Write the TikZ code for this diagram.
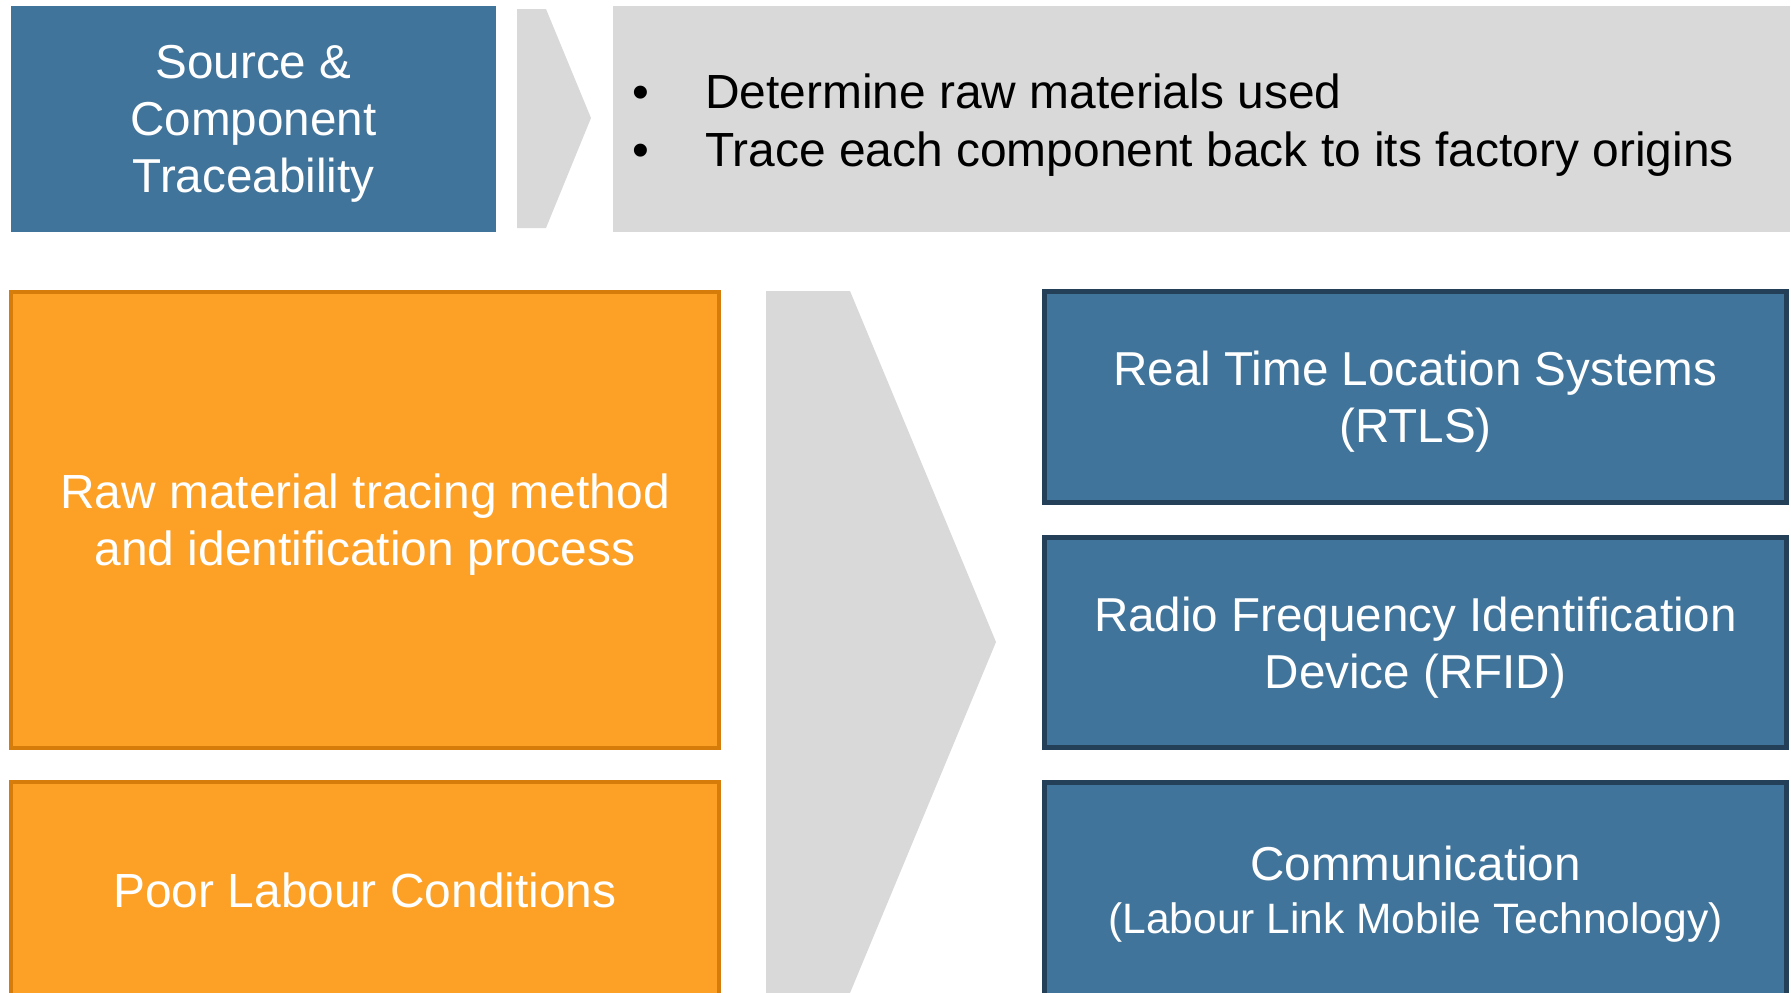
\documentclass[tikz,border=0pt]{standalone}
\usepackage{fontspec}
\setmainfont{Liberation Sans}
\definecolor{steel}{RGB}{65,116,155}
\definecolor{navy}{RGB}{36,63,88}
\definecolor{amber}{RGB}{252,161,38}
\definecolor{amberedge}{RGB}{214,124,10}
\definecolor{panel}{RGB}{217,217,217}
\tikzset{
  txt/.style={font=\fontsize{47.9}{57}\selectfont},
  headbox/.style={fill=steel, text=white, align=center, inner sep=0pt, text depth=-3pt,
    font=\fontsize{47.6}{57}\selectfont},
  issuebox/.style={fill=amber, draw=amberedge, line width=4pt, text=white, align=center,
    inner sep=0pt, text depth=-2pt, txt},
  techbox/.style={fill=steel, draw=navy, line width=5pt, text=white, align=center,
    inner sep=0pt, text depth=-5pt, font=\fontsize{47.6}{57}\selectfont},
  bulletline/.style={anchor=base west, inner sep=0pt, txt},
  chevron/.style={fill=panel}
}
\begin{document}
\begin{tikzpicture}[x=1pt,y=-1pt]
\useasboundingbox (0,0) rectangle (1791,993);
\clip (0,0) rectangle (1791,993);

% top row: heading, small chevron, description panel
\node[headbox, minimum width=485pt, minimum height=226pt] (src) at (253.5,119)
  {Source \&\\Component\\Traceability};
\fill[chevron] (517,9) -- (546,9) -- (591,118) -- (546,228) -- (517,228) -- cycle;
\node[fill=panel, minimum width=1177pt, minimum height=226pt, inner sep=0pt] (desc) at (1201.5,119) {};
\node[bulletline] (b1) at (705,108)
  {\llap{\makebox[0pt]{•}\hspace{64pt}}Determine raw materials used};
\node[bulletline] (b2) at (705,166.5)
  {\llap{\makebox[0pt]{•}\hspace{64pt}}Trace each component back to its factory origins};

% left column: issues
\node[issuebox, minimum width=708pt, minimum height=456pt] (raw) at (365,520)
  {Raw material tracing method\\and identification process};
\node[issuebox, minimum width=708pt, minimum height=216pt, text depth=0pt] (labour) at (365,890)
  {Poor Labour Conditions};

% large chevron between the columns
\fill[chevron] (766,291) -- (850,291) -- (996,642) -- (850,993) -- (766,993) -- cycle;

% right column: technologies
\node[techbox, minimum width=742pt, minimum height=211pt] (rtls) at (1415.5,397)
  {Real Time Location Systems\\(RTLS)};
\node[techbox, minimum width=742pt, minimum height=210pt] (rfid) at (1415.5,642.5)
  {Radio Frequency Identification\\Device (RFID)};
\node[techbox, minimum width=742pt, minimum height=215pt, text depth=-3pt] (comm) at (1415.5,890)
  {Communication\\[-4pt]{\fontsize{42.5}{55}\selectfont (Labour Link Mobile Technology)}};
\end{tikzpicture}
\end{document}
